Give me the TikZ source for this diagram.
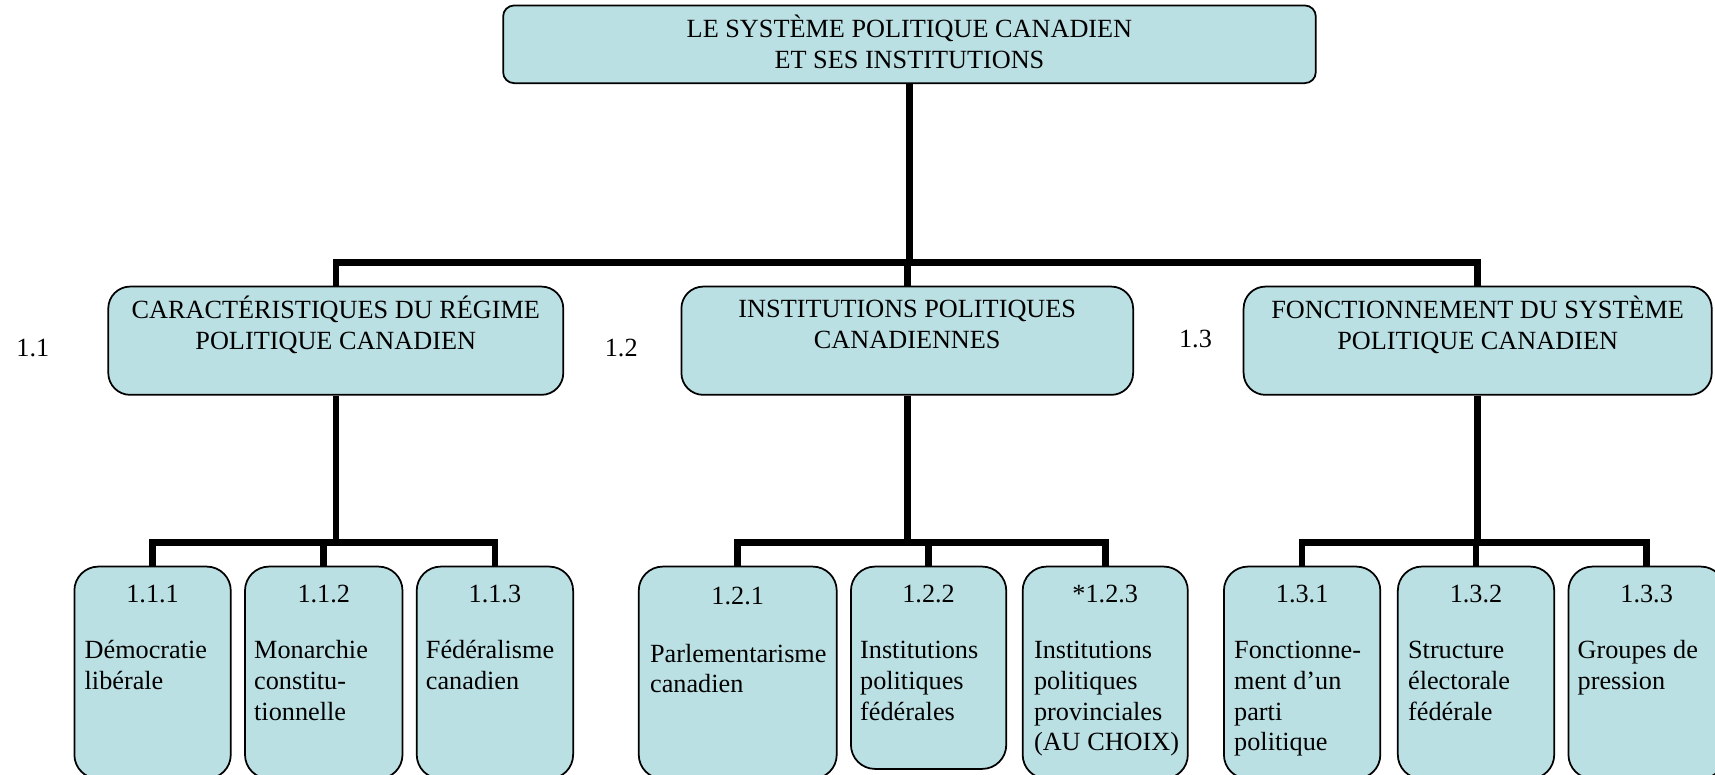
\documentclass[tikz,border=0pt]{standalone}
\usepackage{fontspec}
\setmainfont{Liberation Serif}
\usetikzlibrary{fit}
\definecolor{boxfill}{HTML}{BBE0E3}
\begin{document}
\begin{tikzpicture}[x=0.5pt,y=-0.5pt,
  font=\fontsize{12}{14}\selectfont,
  box/.style={draw=black, line width=0.8pt, fill=boxfill, inner sep=0pt, rounded corners=#1},
  box/.default=11pt,
  conn/.style={line width=3pt},
  lbl/.style={inner sep=0pt, anchor=north, align=center},
  body/.style={inner sep=0pt, anchor=north west, align=left},
  num/.style={inner sep=0pt, anchor=base},
]
\useasboundingbox (0,0) rectangle (1568,708);
\fill[white] (0,0) rectangle (1568,708);
\clip (0,0) rectangle (1568,708);

% junction points
\coordinate (j0) at (831.5,240);
\coordinate (j1) at (307,496);
\coordinate (j2) at (829.5,496);
\coordinate (j3) at (1351,496);

% top
\node[box=5pt, fit={(460,5) (1203,76)}] (top) {};
\node[lbl] (ttop) at (831.5,13.4) {\strut LE SYSTÈME POLITIQUE CANADIEN\\ET SES INSTITUTIONS};

% level 2
\node[box=10pt, fit={(99,262) (515,361)}] (b11) {};
\node[box=10pt, fit={(623,262) (1036,361)}] (b12) {};
\node[box=10pt, fit={(1137,262) (1565,361)}] (b13) {};
\node[lbl] (t11) at (307,270.4) {\strut CARACTÉRISTIQUES DU RÉGIME\\POLITIQUE CANADIEN};
\node[lbl] (t12) at (829.5,270.4) {\strut INSTITUTIONS POLITIQUES\\CANADIENNES};
\node[lbl] (t13) at (1351,270.4) {\strut FONCTIONNEMENT DU SYSTÈME\\POLITIQUE CANADIEN};
\node[num] (n11) at (30,326) {1.1};
\node[num] (n12) at (568,326) {1.2};
\node[num] (n13) at (1093,318) {1.3};

% level 3
\node[box, fit={(68,518) (211,712)}] (b111) {};
\node[box, fit={(224,518) (368,712)}] (b112) {};
\node[box, fit={(381,518) (524,712)}] (b113) {};
\node[box, fit={(584,518) (765,712)}] (b121) {};
\node[box, fit={(778,518) (920,703)}] (b122) {};
\node[box, fit={(935,518) (1086,712)}] (b123) {};
\node[box, fit={(1119,518) (1262,712)}] (b131) {};
\node[box, fit={(1278,518) (1421,712)}] (b132) {};
\node[box, fit={(1434,518) (1577,712)}] (b133) {};

\node[num] (n111) at (139.5,551) {1.1.1};
\node[num] (n112) at (296,551) {1.1.2};
\node[num] (n113) at (452.5,551) {1.1.3};
\node[num] (n121) at (674.5,553) {1.2.1};
\node[num] (n122) at (849,551) {1.2.2};
\node[num] (n123) at (1010.5,551) {*1.2.3};
\node[num] (n131) at (1190.5,551) {1.3.1};
\node[num] (n132) at (1349.5,551) {1.3.2};
\node[num] (n133) at (1505.5,551) {1.3.3};

\node[body] (x111) at (77,582.4) {\strut Démocratie\\libérale};
\node[body] (x112) at (232,582.4) {\strut Monarchie\\constitu-\\tionnelle};
\node[body] (x113) at (389,582.4) {\strut Fédéralisme\\canadien};
\node[body] (x121) at (594,585.4) {\strut Parlementarisme\\canadien};
\node[body] (x122) at (786,582.4) {\strut Institutions\\politiques\\fédérales};
\node[body] (x123) at (945,582.4) {\strut Institutions\\politiques\\provinciales\\(AU CHOIX)};
\node[body] (x131) at (1128,582.4) {\strut Fonctionne-\\ment d’un\\parti\\politique};
\node[body] (x132) at (1287,582.4) {\strut Structure\\électorale\\fédérale};
\node[body] (x133) at (1442,582.4) {\strut Groupes de\\pression};

% connectors
\draw[conn] (top.south) -- (j0);
\draw[conn] (b11.north) |- (j0);
\draw[conn] (b13.north) |- (j0);
\draw[conn] (b12.north) -- (b12.north |- j0);

\draw[conn] (b11.south) -- (j1);
\draw[conn] (b111.north) |- (j1);
\draw[conn] (b113.north) |- (j1);
\draw[conn] (b112.north) -- (b112.north |- j1);

\draw[conn] (b12.south) -- (j2);
\draw[conn] (b121.north) |- (j2);
\draw[conn] (b123.north) |- (j2);
\draw[conn] (b122.north) -- (b122.north |- j2);

\draw[conn] (b13.south) -- (j3);
\draw[conn] (b131.north) |- (j3);
\draw[conn] (b133.north) |- (j3);
\draw[conn] (b132.north) -- (b132.north |- j3);
\end{tikzpicture}
\end{document}
